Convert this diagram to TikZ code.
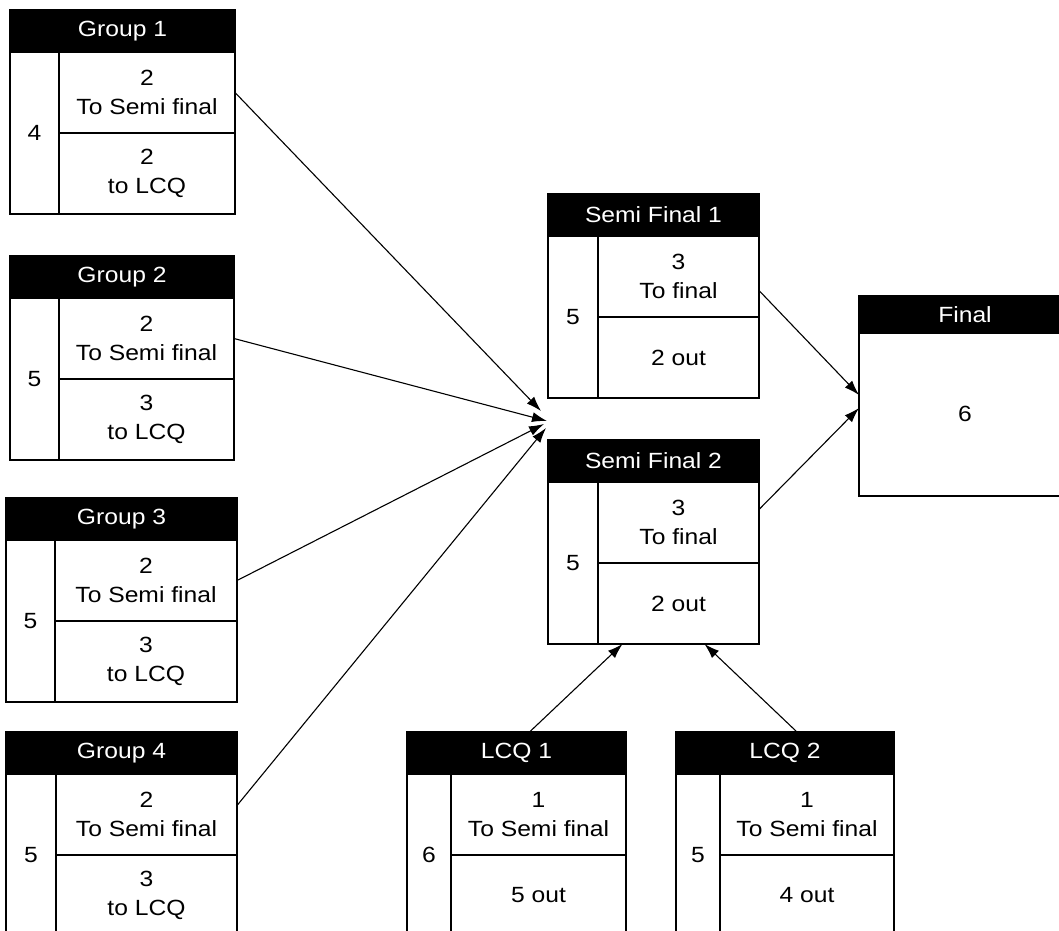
\documentclass[tikz,border=0pt]{standalone}
\usepackage{fontspec}
\setmainfont[FakeStretch=1.12]{Liberation Sans}
\usetikzlibrary{arrows.meta}
\tikzset{
  outerbox/.style={draw=black, line width=1.1pt, minimum height=204pt, inner sep=0pt, outer sep=0pt},
  hdr/.style={fill=black, draw=black, line width=1.1pt, text=white, minimum height=42pt, inner sep=0pt, outer sep=0pt},
  cell/.style={draw=black, line width=1.1pt, inner sep=0pt, outer sep=0pt, align=center},
  conn/.style={line width=1.1pt, -{Latex[length=15pt,width=10pt]}},
}
\newcommand\stage[9]{%
  \node[outerbox, minimum width=#4pt, anchor=north west] (#1) at (#2,#3) {};
  \node[hdr, minimum width=#4pt, anchor=north west] (#1-h) at (#2,#3) {#6};
  \node[cell, minimum width=#5pt, minimum height=162pt, anchor=north west] (#1-l) at (#1-h.south west) {#7};
  \pgfmathsetmacro\stgrw{#4-#5}%
  \node[cell, minimum width=\stgrw pt, minimum height=81pt, anchor=north east] (#1-t) at (#1-h.south east) {#8};
  \node[cell, minimum width=\stgrw pt, minimum height=81pt, anchor=north] (#1-b) at (#1-t.south) {#9};
}
\begin{document}
\begin{tikzpicture}[x=1pt,y=-1pt, font=\fontsize{22}{29}\selectfont]
\useasboundingbox (0,0) rectangle (1059,930);
\clip (0,0) rectangle (1059,930);

\stage{g1}{10}{10}{225}{49}{Group 1}{4}{2\\To Semi final}{2\\to LCQ}
\stage{g2}{10}{256}{224}{49}{Group 2}{5}{2\\To Semi final}{3\\to LCQ}
\stage{g3}{6}{498}{231}{49}{Group 3}{5}{2\\To Semi final}{3\\to LCQ}
\stage{g4}{6}{732}{231}{50}{Group 4}{5}{2\\To Semi final}{3\\to LCQ}
\stage{sf1}{548}{194}{211}{50}{Semi Final 1}{5}{3\\To final}{2 out}
\stage{sf2}{548}{440}{211}{50}{Semi Final 2}{5}{3\\To final}{2 out}
\stage{lcq1}{407}{732}{219}{44}{LCQ 1}{6}{1\\To Semi final}{5 out}
\stage{lcq2}{676}{732}{218}{44}{LCQ 2}{5}{1\\To Semi final}{4 out}

\node[outerbox, minimum width=212pt, minimum height=200pt, anchor=north west] (fin) at (859,296) {};
\node[hdr, minimum width=212pt, minimum height=37pt, anchor=north west] (fin-h) at (859,296) {Final};
\node (fin-n) at (965,414) {6};

\coordinate (c1) at (541,411);
\coordinate (c2) at (547,421);
\coordinate (c3) at (544,424);
\coordinate (c4) at (546,428);

\draw[conn] (g1-t.east) -- (c1);
\draw[conn] (g2-t.east) -- (c2);
\draw[conn] (g3-t.east) -- (c3);
\draw[conn] ([yshift=9pt]g4-t.east) -- (c4);
\draw[conn] ([yshift=-14pt]sf1-t.east) -- ([yshift=1pt]fin.west);
\draw[conn] ([yshift=13pt]sf2-t.east) -- ([yshift=-12pt]fin.west);
\draw[conn] ([xshift=13pt]lcq1-h.north) -- ([xshift=-31pt]sf2.south);
\draw[conn] ([xshift=12pt]lcq2-h.north) -- ([xshift=51pt]sf2.south);
\end{tikzpicture}
\end{document}
